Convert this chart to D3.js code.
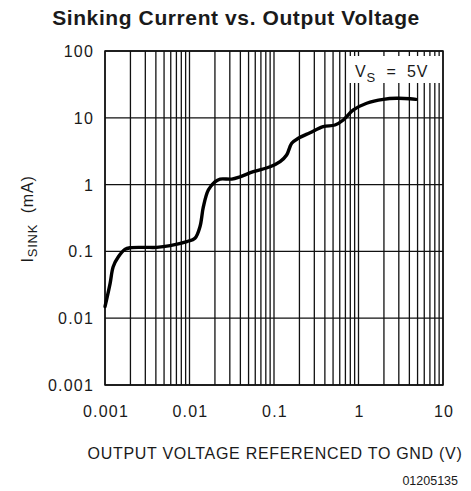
<!DOCTYPE html>
<html><head><meta charset="utf-8">
<script src="https://cdn.jsdelivr.net/npm/d3@7"></script>
<style>
body{margin:0;background:#fff;}
svg{display:block;}
text{fill:#1a1a1a;}
</style></head>
<body><svg id="chart" width="471" height="491"></svg>
<script>
const voltage = [0.001, 0.00115, 0.00125, 0.00144, 0.00172, 0.00198, 0.0029, 0.0041, 0.0059, 0.0093, 0.0116, 0.0133, 0.0146, 0.0167, 0.02, 0.023, 0.0316, 0.0396, 0.057, 0.09, 0.118, 0.141, 0.162, 0.194, 0.267, 0.383, 0.527, 0.661, 0.869, 1.25, 1.97, 2.83, 4.07, 4.79];
const current = [0.0149, 0.0333, 0.059, 0.083, 0.107, 0.1135, 0.115, 0.115, 0.122, 0.14, 0.157, 0.234, 0.467, 0.83, 1.1, 1.21, 1.21, 1.31, 1.56, 1.85, 2.2, 2.77, 4.15, 4.93, 5.98, 7.37, 7.8, 9.27, 13.1, 16.5, 18.9, 19.6, 19.3, 18.9];
const xTicks = [0.001, 0.01, 0.1, 1, 10];
const xTickLabels = ["0.001", "0.01", "0.1", "1", "10"];
const yTicks = [0.001, 0.01, 0.1, 1, 10, 100];
const yTickLabels = ["0.001", "0.01", "0.1", "1", "10", "100"];
const title = "Sinking Current vs. Output Voltage";
const xTitle = "OUTPUT VOLTAGE REFERENCED TO GND (V)";
const figId = "01205135";

const svg = d3.select("#chart");
const L = 105, R = 443, T = 51, B = 385;
const x = d3.scaleLog().domain([0.001, 10]).range([L, R]);
const y = d3.scaleLog().domain([0.001, 100]).range([B, T]);

// minor vertical grid
const minor = [];
for (let d = 0.001; d < 10; d *= 10) for (let k = 1; k <= 10; k++) minor.push(+(d * k).toPrecision(3));
const g = svg.append("g");
g.selectAll("line.v").data(Array.from(new Set(minor))).join("line")
  .attr("x1", d => x(d)).attr("x2", d => x(d)).attr("y1", T).attr("y2", B)
  .attr("stroke", "#111").attr("stroke-width", 1.3);
g.selectAll("line.h").data(yTicks).join("line")
  .attr("x1", L).attr("x2", R).attr("y1", d => y(d)).attr("y2", d => y(d))
  .attr("stroke", "#111").attr("stroke-width", 1.3);
g.append("rect").attr("x", L).attr("y", T).attr("width", R - L).attr("height", B - T)
  .attr("fill", "none").attr("stroke", "#111").attr("stroke-width", 1.5);

// legend box
svg.append("rect").attr("x", 347).attr("y", 56).attr("width", 95).attr("height", 27).attr("fill", "#fff");
const lt = svg.append("text").attr("x", 355).attr("y", 77)
  .style("font-family", "Liberation Sans, Arial").style("font-size", "16px").style("letter-spacing", "0.8px")
  .style("white-space", "pre");
lt.append("tspan").text("V");
lt.append("tspan").attr("dy", 5).style("font-size", "13px").text("S");
lt.append("tspan").attr("dy", -5).text("  =  5V");

// curve
const line = d3.line().x((d, i) => x(voltage[i])).y((d, i) => y(current[i])).curve(d3.curveCatmullRom.alpha(0.5));
svg.append("path").datum(voltage).attr("d", line).attr("fill", "none")
  .attr("stroke", "#000").attr("stroke-width", 3.4).attr("stroke-linecap", "round").attr("stroke-linejoin", "round");

const tickFont = s => s.style("font-family", "Liberation Sans, Arial").style("font-size", "16px").style("letter-spacing", "1.2px");
// y tick labels
svg.selectAll("text.yl").data(yTicks).join("text")
  .attr("x", 94).attr("y", d => y(d) + 6).attr("text-anchor", "end")
  .text((d, i) => yTickLabels[i]).call(tickFont);
// x tick labels
svg.selectAll("text.xl").data(xTicks).join("text")
  .attr("x", d => x(d) + 1).attr("y", 417).attr("text-anchor", "middle")
  .text((d, i) => xTickLabels[i]).call(tickFont);

// x title
svg.append("text").attr("x", 275).attr("y", 459).attr("text-anchor", "middle")
  .text(xTitle).call(tickFont).style("letter-spacing", "0.7px");
// fig id
svg.append("text").attr("x", 458).attr("y", 485).attr("text-anchor", "end")
  .style("font-family", "Liberation Sans, Arial").style("font-size", "12.5px").text(figId);
// title
svg.append("text").attr("x", 236).attr("y", 25).attr("text-anchor", "middle")
  .style("font-family", "Liberation Sans, Arial").style("font-size", "21px").style("font-weight", "bold")
  .style("letter-spacing", "0.6px")
  .text(title);
// y title
const yt = svg.append("text").attr("transform", "translate(33,219) rotate(-90)").attr("text-anchor", "middle")
  .style("font-family", "Liberation Sans, Arial").style("font-size", "16px").style("letter-spacing", "0.8px")
  .style("white-space", "pre");
yt.append("tspan").text("I");
yt.append("tspan").attr("dy", 4).style("font-size", "13px").text("SINK");
yt.append("tspan").attr("dy", -4).text("  (mA)");
</script></body></html>
